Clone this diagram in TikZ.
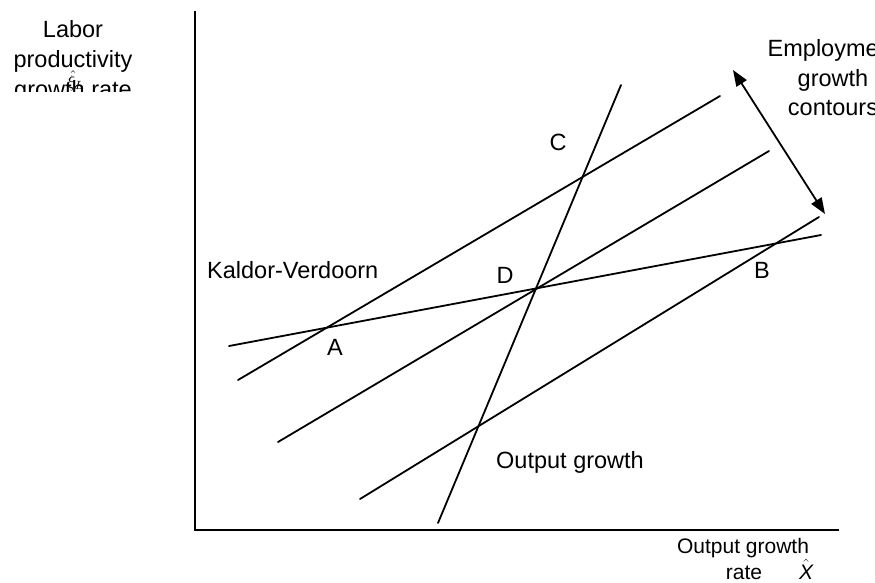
\documentclass[tikz,border=0pt]{standalone}
\usepackage{fontspec}
\setmainfont{Liberation Sans}
\usepackage{amsmath}
\usepackage{graphicx}
\usetikzlibrary{arrows.meta}
\begin{document}
\begin{tikzpicture}[x=1pt,y=-1pt,
  curve/.style={line width=1.8pt, line cap=round},
  axisline/.style={line width=2.4pt},
  lbl/.style={anchor=base, inner sep=0pt, font=\fontsize{23.5}{28}\selectfont},
  lbllt/.style={anchor=base west, inner sep=0pt, font=\fontsize{23.5}{28}\selectfont},
  smalllbl/.style={anchor=base, inner sep=0pt, font=\fontsize{21}{26}\selectfont}]
\clip (0,0) rectangle (875,582);
\fill[white] (0,0) rectangle (875,582);
% axes
\coordinate (ytop) at (195,11);
\coordinate (orig) at (195,530);
\coordinate (xend) at (839,530);
\draw[axisline] (ytop) -- (orig) -- (xend);
% Kaldor-Verdoorn line
\coordinate (kv1) at (229,346);
\coordinate (kv2) at (821,235);
\draw[curve] (kv1) -- (kv2);
% employment growth contours
\coordinate (u1) at (238,380); \coordinate (u2) at (720,96);
\coordinate (m1) at (278,442); \coordinate (m2) at (769,151);
\coordinate (l1) at (360,499); \coordinate (l2) at (819,217);
\draw[curve] (u1) -- (u2);
\draw[curve] (m1) -- (m2);
\draw[curve] (l1) -- (l2);
% output growth line
\coordinate (o1) at (438,523); \coordinate (o2) at (621,85);
\draw[curve] (o1) -- (o2);
% double arrow
\coordinate (ar1) at (733,70); \coordinate (ar2) at (825,214);
\draw[line width=1.8pt, {Triangle[length=16pt,width=12pt]}-{Triangle[length=16pt,width=12pt]}] (ar1) -- (ar2);
% point labels
\node[lbl] (C) at (558,150.5) {C};
\node[lbl] (D) at (505,283.5) {D};
\node[lbl] (A) at (335,355.5) {A};
\node[lbl] (B) at (762,278.5) {B};
\node[lbllt] (kvlab) at (207,278.5) {Kaldor-Verdoorn};
\node[lbllt] (oglab) at (496,468) {Output growth};
% employment label
\node[lbl] (emp1) at (833,56) {Employment};
\node[lbl] (emp2) at (833,86) {growth};
\node[lbl] (emp3) at (833,115) {contours};
% y-axis label (clipped)
\begin{scope}
\clip (0,0) rectangle (190,91);
\node[lbl] (yl1) at (73,37) {Labor};
\node[lbl] (yl2) at (73,67) {productivity};
\node[lbl] (yl3) at (73,97) {growth rate};
\node[anchor=base, inner sep=0pt] (ysym) at (76,87) {\scalebox{1.7}{$\hat{\xi}_L$}};
\end{scope}
% x-axis label
\node[smalllbl] (xl1) at (743,553) {Output growth};
\node[smalllbl] (xl2) at (744,579) {rate};
\node[smalllbl] (xsym) at (806,579) {$\hat{\text{\itshape X}}$};
\end{tikzpicture}
\end{document}
